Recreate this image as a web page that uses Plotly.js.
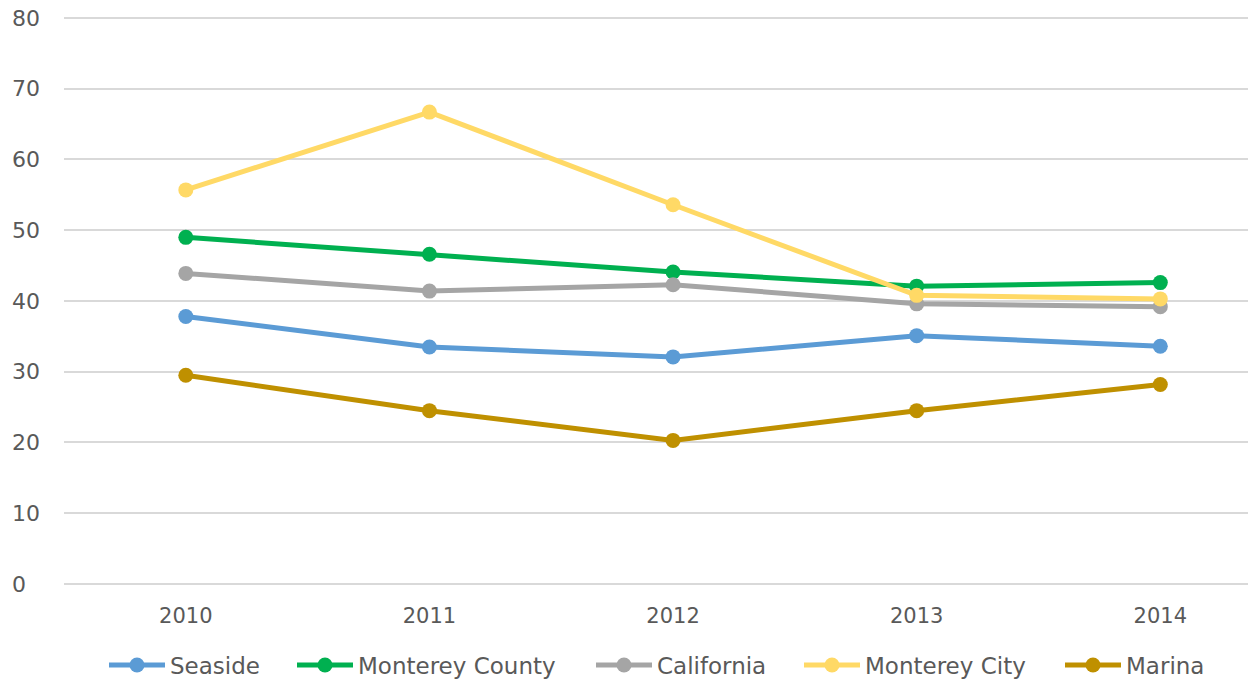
<!DOCTYPE html>
<html>
<head>
<meta charset="utf-8">
<script src="https://cdn.plot.ly/plotly-3.0.1.min.js"></script>
<style>html,body{margin:0;padding:0;background:#fff;}#chart{width:1248px;height:680px;}</style>
</head>
<body>
<div id="chart"></div>
<script>
const years = ["2010", "2011", "2012", "2013", "2014"];
const seriesNames = ["Seaside", "Monterey County", "California", "Monterey City", "Marina"];
const seaside = [37.8, 33.5, 32.1, 35.1, 33.6];
const montereyCounty = [49.0, 46.6, 44.1, 42.1, 42.6];
const california = [43.9, 41.4, 42.3, 39.6, 39.2];
const montereyCity = [55.7, 66.7, 53.6, 40.8, 40.3];
const marina = [29.5, 24.5, 20.3, 24.5, 28.2];
const yTicks = [0, 10, 20, 30, 40, 50, 60, 70, 80];

const colors = ["#5B9BD5", "#00B050", "#A5A5A5", "#FFD966", "#BF9000"];
const values = [seaside, montereyCounty, california, montereyCity, marina];
const fontFam = "DejaVu Sans, sans-serif";
const textColor = "#595959";

const W = 1248, H = 680;
const ml = 8, mr = 0, mt = 0, mb = 60;
const plotH = H - mt - mb;            // 620
const yTopPx = 18, yBotPx = 584;      // pixel rows for 80 and 0
const pxPerUnit = (yBotPx - yTopPx) / 80;
const yPad = 0.15;
const domLo = (plotH - (yBotPx + yPad * pxPerUnit)) / plotH;
const domHi = (plotH - (yTopPx - yPad * pxPerUnit)) / plotH;
const y2Lo = -(plotH - yBotPx) / pxPerUnit;
const y2Hi = 80 + yTopPx / pxPerUnit;
const plotLeft = 64;
const domStart = (plotLeft - ml) / (W - ml - mr);

// legend entry left edges (pixels)
const legendStarts = [104, 292, 591, 799, 1060];
const legendIds = ["legend", "legend2", "legend3", "legend4", "legend5"];
const legendCenterPx = 665;

const traces = values.map((v, i) => ({
  type: "scatter",
  mode: "lines+markers",
  name: seriesNames[i],
  x: years,
  y: v,
  line: {color: colors[i], width: 5},
  marker: {color: colors[i], size: 15},
  legend: legendIds[i],
  hoverinfo: "none"
}));
// empty trace so that the label axis is drawn
traces.unshift({type: "scatter", x: [], y: [], yaxis: "y2", showlegend: false, hoverinfo: "none"});

const legendBase = (i) => ({
  orientation: "h",
  x: (legendStarts[i] - ml) / (W - ml - mr),
  xanchor: "left",
  y: (plotH - legendCenterPx) / plotH, yanchor: "middle",
  font: {family: fontFam, color: textColor, size: 23},
  itemwidth: 56,
  bgcolor: "rgba(0,0,0,0)"
});

const layout = {
  width: W, height: H,
  margin: {l: ml, r: mr, t: mt, b: mb, pad: 0, autoexpand: false},
  paper_bgcolor: "#fff",
  plot_bgcolor: "rgba(0,0,0,0)",
  font: {family: fontFam, color: textColor, size: 21},
  showlegend: true,
  xaxis: {
    type: "category",
    domain: [domStart, 1],
    range: [-0.5, 4.36],
    showgrid: false,
    zeroline: false,
    showline: false,
    ticks: "outside",
    ticklen: 12,
    tickcolor: "rgba(0,0,0,0)",
    automargin: false,
    tickfont: {family: fontFam, color: textColor, size: 21}
  },
  yaxis: {
    domain: [domLo, domHi],
    range: [-yPad, 80 + yPad],
    tickvals: yTicks,
    showticklabels: false,
    showgrid: true,
    gridcolor: "#D9D9D9",
    gridwidth: 2,
    zeroline: false,
    showline: false,
    automargin: false
  },
  yaxis2: {
    domain: [0, 1],
    anchor: "free",
    position: 0,
    side: "left",
    range: [y2Lo, y2Hi],
    tickvals: yTicks,
    ticktext: yTicks.map(String),
    ticklabelposition: "inside",
    showgrid: false,
    zeroline: false,
    showline: false,
    ticks: "",
    automargin: false,
    tickfont: {family: fontFam, color: textColor, size: 22}
  }
};
legendIds.forEach((id, i) => { layout[id] = legendBase(i); });

Plotly.newPlot("chart", traces, layout, {displayModeBar: false, staticPlot: true});
</script>
</body>
</html>
